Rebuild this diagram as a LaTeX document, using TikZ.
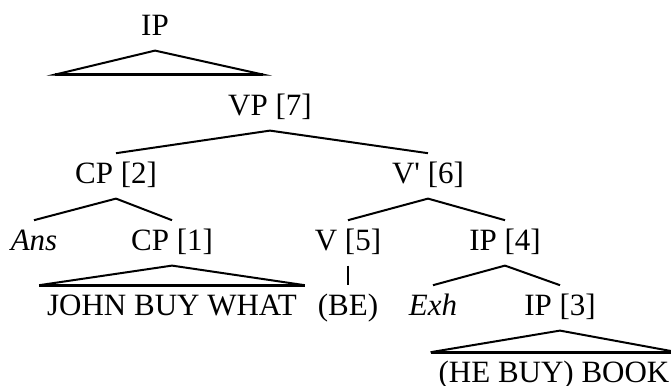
\documentclass[tikz,border=0pt]{standalone}
\usepackage{fontspec}
\setmainfont{Liberation Serif}

\begin{document}
\begin{tikzpicture}[x=0.5pt,y=-0.5pt,line width=1pt,
  cat/.style={anchor=base,inner xsep=3.5pt,inner ysep=4.2pt,
    text height=10.2pt,text depth=3.1pt,font=\fontsize{15.5}{18}\selectfont}]
\useasboundingbox (0,0) rectangle (671,386);

\node[cat] (ip) at (155,35) {IP};
\node[cat] (vp7) at (270,115) {VP [7]};
\node[cat] (cp2) at (116,183) {CP [2]};
\node[cat] (vb6) at (428,183) {V\textquotesingle{} [6]};
\node[cat] (ans) at (34,250) {\itshape Ans};
\node[cat] (cp1) at (172,250) {CP [1]};
\node[cat] (v5) at (348,250) {V [5]};
\node[cat] (ip4) at (505,250) {IP [4]};
\node[cat] (jbw) at (172,315) {JOHN BUY WHAT};
\node[cat] (be) at (348,315) {(BE)};
\node[cat] (exh) at (433,315) {\itshape Exh};
\node[cat] (ip3) at (560,315) {IP [3]};
\node[cat] (hbb) at (554,382) {(HE BUY) BOOK};

% roof over the whole IP
\draw (ip.south) -- ++(-100,24) -- ++(208,0) -- cycle;
\draw[line width=1.3pt] (ip.south) ++(-100,24) -- ++(208,0);

\draw (vp7.south) -- (cp2.north);
\draw (vp7.south) -- (vb6.north);
\draw (cp2.south) -- (ans.north);
\draw (cp2.south) -- (cp1.north);
\draw (vb6.south) -- (v5.north);
\draw (vb6.south) -- (ip4.north);
\draw (v5.south) -- (be.north);
\draw (ip4.south) -- (exh.north);
\draw (ip4.south) -- (ip3.north);

% roofs
\draw (cp1.south) -- (jbw.north west) -- (jbw.north east) -- cycle;
\draw[line width=1.3pt] (jbw.north west) -- (jbw.north east);
\draw (ip3.south) -- (hbb.north west) -- (hbb.north east) -- cycle;
\draw[line width=1.3pt] (hbb.north west) -- (hbb.north east);
\end{tikzpicture}
\end{document}
